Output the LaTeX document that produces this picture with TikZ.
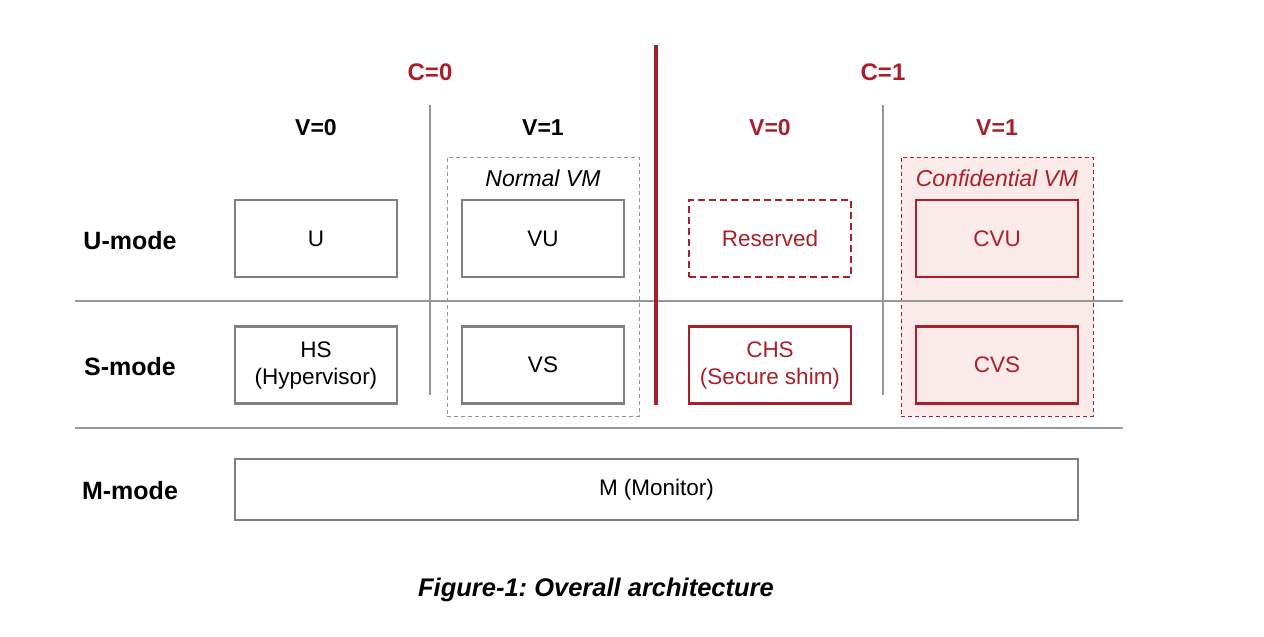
\documentclass[tikz,border=0pt]{standalone}
\usepackage{fontspec}
\setmainfont{Liberation Sans}
\usepackage{tikz}
\usetikzlibrary{positioning}
\definecolor{SecRed}{RGB}{170,32,42}
\definecolor{BoxGray}{RGB}{128,128,128}
\definecolor{LineGray}{RGB}{150,150,150}
\definecolor{SecPink}{RGB}{251,234,234}
\frenchspacing
\tikzset{
    modebox/.style={rectangle, draw=BoxGray, line width=2.6pt, fill=white, minimum width=162pt, minimum height=77pt, inner sep=0pt, align=center, font=\fontsize{22.5}{27}\selectfont},
    secbox/.style={modebox, draw=SecRed, text=SecRed},
    modelabel/.style={font=\bfseries\fontsize{25}{29}\selectfont}
}

\begin{document}
\begin{tikzpicture}[
        x=1pt, y=-1pt,
        % --- STYLE CHUNG ---
        vmframe/.style={rectangle, draw=LineGray, dash pattern=on 4pt off 3pt, line width=1pt, minimum width=192pt, minimum height=259pt},
        sepline/.style={draw=LineGray, line width=1.4pt},
        colhead/.style={font=\bfseries\fontsize{23}{27}\selectfont},
        vmlabel/.style={font=\itshape\fontsize{23}{27}\selectfont}
    ]
        \useasboundingbox (0,0) rectangle (1264,637);

        % --- KHUNG VM ---
        \node[vmframe] (normalvm) at (543,286.5) {};
        \node[vmframe, draw=SecRed, fill=SecPink] (confvm) at (997,286.5) {};
        \node[vmlabel] (normalvmlbl) at (543,178) {Normal VM};
        \node[vmlabel, text=SecRed] (confvmlbl) at (997,178) {Confidential VM};

        % --- DUONG PHAN CACH ---
        \draw[sepline] (75,301) -- (1123,301);
        \draw[sepline] (75,428) -- (1123,428);
        \draw[sepline] (430,105) -- (430,395);
        \draw[sepline] (883,105) -- (883,395);
        \draw[SecRed, line width=3.6pt] (656,45) -- (656,405);

        % --- TIEU DE ---
        \node[colhead, font=\bfseries\fontsize{24}{28}\selectfont, text=SecRed] (czero) at (430,72) {C=0};
        \node[colhead, font=\bfseries\fontsize{24}{28}\selectfont, text=SecRed] (cone) at (883,72) {C=1};
        \node[colhead] (vzeroa) at (316,128) {V=0};
        \node[colhead] (vonea) at (543,128) {V=1};
        \node[colhead, text=SecRed] (vzerob) at (770,128) {V=0};
        \node[colhead, text=SecRed] (voneb) at (997,128) {V=1};

        \node[modelabel] (umode) at (130,241) {U-mode};
        \node[modelabel] (smode) at (130,367) {S-mode};
        \node[modelabel] (mmode) at (130,491) {M-mode};

        % --- HOP CHE DO ---
        \node[modebox] (U) at (316,238.5) {U};
        \node[modebox] (VU) at (543,238.5) {VU};
        \node[secbox, dash pattern=on 7pt off 4pt, line width=1.5pt] (reserved) at (770,238.5) {Reserved};
        \node[secbox, fill=SecPink] (CVU) at (997,238.5) {CVU};

        \node[modebox] (HS) at (316,365) {HS\\(Hypervisor)};
        \node[modebox] (VS) at (543,365) {VS};
        \node[secbox] (CHS) at (770,365) {CHS\\(Secure shim)};
        \node[secbox, fill=SecPink] (CVS) at (997,365) {CVS};

        \node[modebox, minimum width=843pt, minimum height=61pt] (M) at (656.5,489.5) {M (Monitor)};

        % --- CHU THICH ---
        \node[font=\bfseries\itshape\fontsize{25.5}{30}\selectfont] (caption) at (596,590) {Figure-1: Overall architecture};

    \end{tikzpicture}
\end{document}
